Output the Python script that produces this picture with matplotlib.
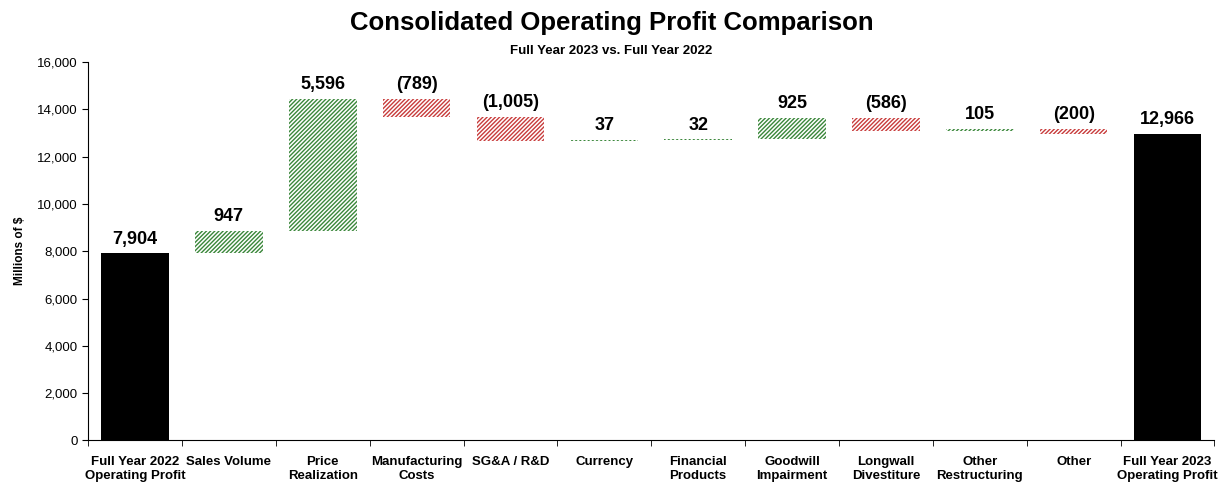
import matplotlib.pyplot as plt
import numpy as np

categories = ["Full Year 2022\nOperating Profit", "Sales Volume", "Price\nRealization",
              "Manufacturing\nCosts", "SG&A / R&D", "Currency", "Financial\nProducts",
              "Goodwill\nImpairment", "Longwall\nDivestiture", "Other\nRestructuring",
              "Other", "Full Year 2023\nOperating Profit"]
start_value = 7904
changes = [947, 5596, -789, -1005, 37, 32, 925, -586, 105, -200]
end_value = 12966
value_labels = ["7,904", "947", "5,596", "(789)", "(1,005)", "37", "32", "925",
                "(586)", "105", "(200)", "12,966"]

plt.rcParams['font.family'] = ['Liberation Sans', 'DejaVu Sans']
plt.rcParams['hatch.linewidth'] = 1.0

fig, ax = plt.subplots(figsize=(12.23, 4.84), dpi=100)
fig.subplots_adjust(left=0.072, right=0.993, top=0.872, bottom=0.09)

x = np.arange(len(categories))
width = 0.72

# totals
ax.bar(x[0], start_value, width, color='black')
ax.bar(x[-1], end_value, width, color='black')

# waterfall steps
running = start_value
tops = [start_value]
for i, c in enumerate(changes):
    if c >= 0:
        bottom, h, col = running, c, '#3a873a'
    else:
        bottom, h, col = running + c, -c, '#c83c3c'
    ax.bar(x[i + 1], h, width, bottom=bottom, color='white', edgecolor=col,
           hatch='////////', linewidth=0)
    running += c
    tops.append(max(running, running - c))
tops.append(end_value)

for xi, top, lab in zip(x, tops, value_labels):
    ax.text(xi, top + 250, lab, ha='center', va='bottom', fontsize=13, fontweight='bold')

ax.set_xlim(-0.5, len(categories) - 0.5)
ax.set_ylim(0, 16000)
ax.set_yticks(np.arange(0, 16001, 2000))
ax.set_yticklabels([f"{v:,}" for v in range(0, 16001, 2000)], fontsize=9.5)
ax.set_ylabel("Millions of $", fontsize=8.5, fontweight='bold', labelpad=8)

ax.set_xticks(x)
ax.set_xticklabels(categories, fontsize=9.5, fontweight='bold', linespacing=1.3)
ax.tick_params(axis='x', which='major', length=0, pad=11)
ax.set_xticks(np.arange(-0.5, len(categories), 1), minor=True)
ax.tick_params(axis='x', which='minor', length=4, direction='out')
ax.tick_params(axis='y', length=4, direction='out')

for s in ['top', 'right']:
    ax.spines[s].set_visible(False)

fig.text(0.5, 0.952, "Consolidated Operating Profit Comparison", ha='center', va='center',
         fontsize=18.5, fontweight='bold')
fig.text(0.5, 0.895, "Full Year 2023 vs. Full Year 2022", ha='center', va='center',
         fontsize=9.5, fontweight='bold')

fig.savefig("out.png")
